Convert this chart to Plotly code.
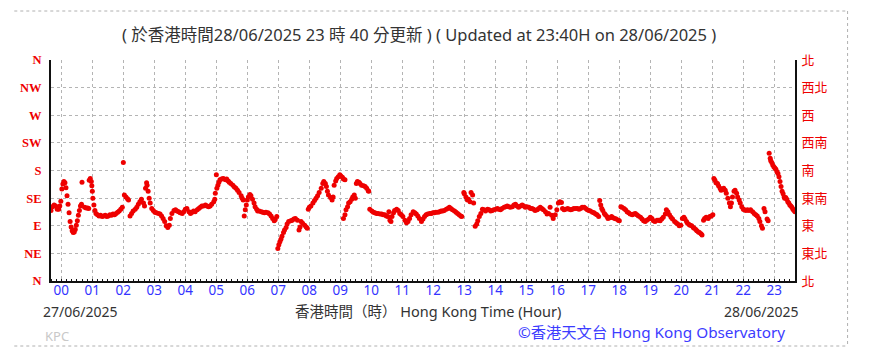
import plotly.graph_objects as go

# ---- data: (minutes from 00:00 28/06/2025, wind direction in degrees) ----
night_pts = [(-20,115),(-17,121),(-14,124),(-11,122),(-8,117),(-5,117),(-3,122),(-1,130),(1,150),(3,158),
    (5,162),(7,160),(9,152),(11,139),(13,125),(15,111),(17,97),(19,88),(21,82),(23,79),(25,80),(27,84),
    (29,91),(31,98),(33,107),(35,115),(37,122),(39,125),(40,161),(45,120),(48,119),(51,119),(53,118),
    (54,164),(56,167),(58,162),(59,155),(60,146),(61,135),(63,124),(65,115),(67,110),(70,108),(73,106),
    (76,107),(79,105),(82,106),(85,107),(88,105),(91,106),(94,108),(97,107),(100,109),(103,108),(106,110),
    (109,112),(112,114),(115,117),(118,120),(120,193),(122,140),(125,137),(128,134),(130,132),(133,106),
    (136,110),(139,114),(143,117),(146,120),(149,125),(152,129),(155,133),(159,127),(161,122),(163,151),
    (165,160),(166,156),(168,146),(170,135),(172,127),(175,118),(178,115),(181,112),(184,111),(188,110),
    (191,109),(194,106),(197,102),(200,97),(203,90),(206,87),(209,91),(211,102),(214,110),(218,115),
    (221,116),(224,114),(227,113),(230,111),(234,110),(237,113),(240,117),(243,118),(247,113),(250,110),
    (253,112),(256,114),(259,113),(263,116),(266,118),(269,120),(272,122),(275,122),(279,124),(282,122),
    (285,121),(288,122),(291,125),(295,129),(297,133),(298,143),(300,173),(301,151),(303,156),(305,161),
    (307,165),(310,166),(313,167),(315,166),(318,165),(320,166),(323,163),(325,161),(328,159),(332,156),
    (335,153),(338,151),(341,148),(344,144),(348,139),(350,135),(352,132),(354,106),(356,116),(358,124)]

morning_pts = [(360,132),(362,137),(365,141),(367,139),(370,133),(373,127),(375,121),(378,117),(380,114),
    (383,114),(387,113),(390,112),(393,111),(396,112),(400,111),(403,109),(406,106),(409,102),(412,98),
    (414,100),(417,105),(419,53),(421,59),(423,64),(425,68),(427,73),(430,79),(432,83),(435,87),(437,93),
    (440,97),(444,98),(447,99),(450,101),(453,102),(457,99),(460,83),(462,88),(464,97),(467,94),(471,91),
    (474,88),(476,86),(478,117),(480,120),(483,122),(487,127),(490,131),(493,135),(496,139),(499,144),
    (503,151),(506,159),(508,162),(511,159),(513,154),(515,146),(517,140),(521,136),(524,132),(526,137),
    (528,156),(531,163),(533,167),(536,170),(539,173),(541,171),(544,169),(546,166),(549,165),(546,102),
    (549,108),(551,116),(554,121),(556,127),(559,129),(562,133),(564,137),(567,140),(569,135),(571,159),
    (573,162),(576,161),(578,159),(581,156),(585,155),(588,154),(591,151),(594,147),(595,146),(597,117),
    (601,114),(604,112),(607,111),(610,110),(613,110),(617,109),(620,109),(623,108),(626,108),(629,106),
    (632,105),(634,113),(636,99),(638,97),(640,105),(643,111),(645,115),(649,117),(652,115),(655,110),
    (658,108),(661,105),(665,99),(668,95),(671,97),(674,102),(677,108),(681,113),(684,111),(687,109),
    (690,106),(693,102),(697,97),(700,101),(703,105),(706,108),(709,109),(713,110),(716,110),(719,111)]

afternoon_pts = [(722,111),(725,112),(729,112),(732,113),(735,114),(738,114),(741,115),(745,117),(748,118),
    (751,120),(754,118),(757,116),(761,114),(764,112),(767,110),(770,108),(773,106),(775,105),(779,144),
    (780,142),(783,137),(786,132),(788,133),(791,129),(793,144),(796,140),(798,127),(801,89),(804,93),
    (806,98),(809,105),(812,110),(815,117),(818,116),(821,114),(825,117),(828,116),(831,114),(834,115),
    (837,116),(841,117),(844,118),(847,117),(850,116),(853,118),(857,120),(860,121),(863,122),(866,121),
    (869,120),(873,121),(876,124),(879,125),(882,122),(885,120),(889,122),(892,124),(895,122),(898,120),
    (901,121),(905,120),(908,118),(911,118),(914,117),(917,115),(921,116),(924,118),(927,120),(930,118),
    (933,116),(937,113),(940,109),(943,110),(946,120),(949,107),(952,102),(956,108),(959,116),(962,127),
    (965,129),(968,128),(970,118),(973,116),(976,117),(980,118),(983,117),(986,116),(989,117),(992,118),
    (996,118),(999,118),(1002,117),(1005,118),(1008,120),(1012,120),(1015,118),(1018,116),(1021,115),
    (1024,114),(1028,112),(1031,111),(1034,109),(1037,108),(1040,105),(1042,131),(1044,124),(1046,118),
    (1048,115),(1051,110),(1053,108),(1056,105),(1058,102),(1062,103),(1065,105),(1068,103),(1071,102),
    (1074,101),(1078,99)]

evening_pts = [(1080,98),(1083,121),(1085,120),(1089,118),(1092,116),(1095,113),(1098,111),(1101,109),
    (1105,108),(1108,109),(1111,110),(1114,108),(1117,106),(1121,104),(1124,101),(1127,98),(1130,97),
    (1133,99),(1137,101),(1140,104),(1143,102),(1146,98),(1149,97),(1153,99),(1156,99),(1159,98),(1162,101),
    (1165,104),(1169,109),(1171,116),(1174,113),(1177,108),(1180,104),(1183,101),(1187,97),(1190,95),
    (1193,93),(1196,90),(1199,91),(1202,102),(1205,104),(1207,101),(1210,97),(1212,94),(1215,92),(1217,91),
    (1220,90),(1223,87),(1225,86),(1228,84),(1230,82),(1233,80),(1235,79),(1238,77),(1240,75),(1243,99),
    (1245,102),(1248,104),(1252,102),(1255,105),(1258,106),(1261,108),(1263,167),(1265,164),(1267,160),
    (1270,159),(1272,155),(1275,151),(1277,148),(1280,149),(1282,151),(1285,148),(1287,143),(1290,135),
    (1293,127),(1295,121),(1297,127),(1299,137),(1302,146),(1304,148),(1307,143),(1309,137),(1312,132),
    (1314,127),(1317,121),(1320,117),(1322,116),(1325,115),(1328,116),(1331,115),(1334,116),(1338,113),
    (1341,110),(1344,108),(1347,106),(1350,102),(1352,97),(1355,90),(1357,86),(1360,118),(1362,113),
    (1366,101),(1368,98),(1370,208),(1372,200),(1373,196),(1375,193),(1377,189),(1379,186),(1381,184),
    (1383,182),(1385,178),(1387,175),(1389,170),(1391,162),(1393,154),(1395,146),(1397,142),(1399,137),
    (1400,135),(1402,136),(1404,133),(1406,129),(1408,127),(1410,124),(1412,122),(1414,120),(1416,117),
    (1418,115),(1420,113)]

hour_ticks = list(range(24))
hour_labels = ["00","01","02","03","04","05","06","07","08","09","10","11",
               "12","13","14","15","16","17","18","19","20","21","22","23"]
dir_ticks = [0, 45, 90, 135, 180, 225, 270, 315, 360]
dir_labels_en = ["N", "NE", "E", "SE", "S", "SW", "W", "NW", "N"]
dir_labels_zh = ["北", "東北", "東", "東南", "南", "西南", "西", "西北", "北"]

title_text = "( 於香港時間28/06/2025 23 時 40 分更新 ) ( Updated at 23:40H on 28/06/2025 )"
xaxis_title = "香港時間（時） Hong Kong Time (Hour)"
start_date = "27/06/2025"
end_date = "28/06/2025"
credit = "©香港天文台 Hong Kong Observatory"
station = "KPC"

# ---- figure (page coordinates; the page body adds an 8px offset) ----
OFF = 8
W, H = 870 - OFF, 360 - OFF
L, R, T, B = 45, 795, 60, 281   # plot area in page pixels


def px(x):
    return (x - L) / (R - L)


def py(y):
    return (B - y) / (B - T)


fig = go.Figure()
for pts in (night_pts, morning_pts, afternoon_pts, evening_pts):
    fig.add_trace(go.Scatter(
        x=[m / 60 for m, _ in pts], y=[d for _, d in pts],
        mode="markers", marker=dict(color="#ee0000", size=5, line=dict(width=0)),
        showlegend=False, hoverinfo="skip"))
fig.add_trace(go.Scatter(x=[None], y=[None], yaxis="y2", showlegend=False, hoverinfo="skip"))

fig.update_layout(
    width=W, height=H,
    margin=dict(l=L - OFF, r=870 - R, t=T - OFF, b=360 - B, pad=0),
    paper_bgcolor="white", plot_bgcolor="white",
    font=dict(family="Noto Sans, Noto Sans CJK TC, sans-serif", color="#333333"),
    xaxis=dict(
        range=[-1 / 3, 23 + 2 / 3], tickmode="array", tickvals=hour_ticks, ticktext=hour_labels,
        tickfont=dict(color="#3434ff", size=13.5), showline=True, linecolor="#111111", linewidth=2,
        showgrid=True, gridcolor="#b4b4b4", griddash="dot", gridwidth=1, zeroline=False,
        ticks="", mirror=False, ticklabelstandoff=-4,
        minor=dict(dtick=1 / 6, tick0=0, ticks="inside", ticklen=2, tickcolor="#111111", showgrid=False),
    ),
    yaxis=dict(
        range=[0, 360], tickmode="array", tickvals=dir_ticks, ticktext=dir_labels_en,
        tickfont=dict(color="#ee0000", size=12.5, family="Liberation Serif", weight="bold"),
        showline=True, linecolor="#111111", linewidth=2, showgrid=True, gridcolor="#b4b4b4",
        griddash="dot", gridwidth=1, zeroline=False, ticks="", ticklabelstandoff=5,
    ),
    yaxis2=dict(
        range=[0, 360], overlaying="y", side="right", tickmode="array", tickvals=dir_ticks,
        ticktext=dir_labels_zh, tickfont=dict(color="#ee0000", size=13, family="Noto Sans CJK TC"),
        showline=True, linecolor="#111111", linewidth=2, showgrid=False, zeroline=False, ticks="",
        ticklabelstandoff=2,
    ),
)

annos = [
    dict(text=title_text, x=px(416), y=py(35), xanchor="center", yanchor="middle",
         font=dict(size=16.5, color="#333333")),
    dict(text=start_date, x=px(35), y=py(311), xanchor="left", yanchor="middle",
         font=dict(size=14, color="#333333")),
    dict(text=xaxis_title, x=px(425), y=py(311), xanchor="center", yanchor="middle",
         font=dict(size=14.5, color="#333333")),
    dict(text=end_date, x=px(800), y=py(311), xanchor="right", yanchor="middle",
         font=dict(size=14, color="#333333")),
    dict(text=station, x=px(37), y=py(336), xanchor="left", yanchor="middle",
         font=dict(size=13, color="#c8c8c8")),
    dict(text=credit, x=px(787), y=py(332), xanchor="right", yanchor="middle",
         font=dict(size=15.3, color="#3c3cff")),
]
for a in annos:
    fig.add_annotation(xref="paper", yref="paper", showarrow=False, **a)

frame = dict(color="#b0b0b0", width=1, dash="dot")
fig.add_shape(type="line", xref="paper", yref="paper", x0=px(8), x1=px(848), y0=py(11), y1=py(11), line=frame)
fig.add_shape(type="line", xref="paper", yref="paper", x0=px(848), x1=px(848), y0=py(11), y1=py(346), line=frame)
fig.add_shape(type="line", xref="paper", yref="paper", x0=px(8), x1=px(848), y0=py(346), y1=py(346), line=frame)

fig.write_html("out.html")
